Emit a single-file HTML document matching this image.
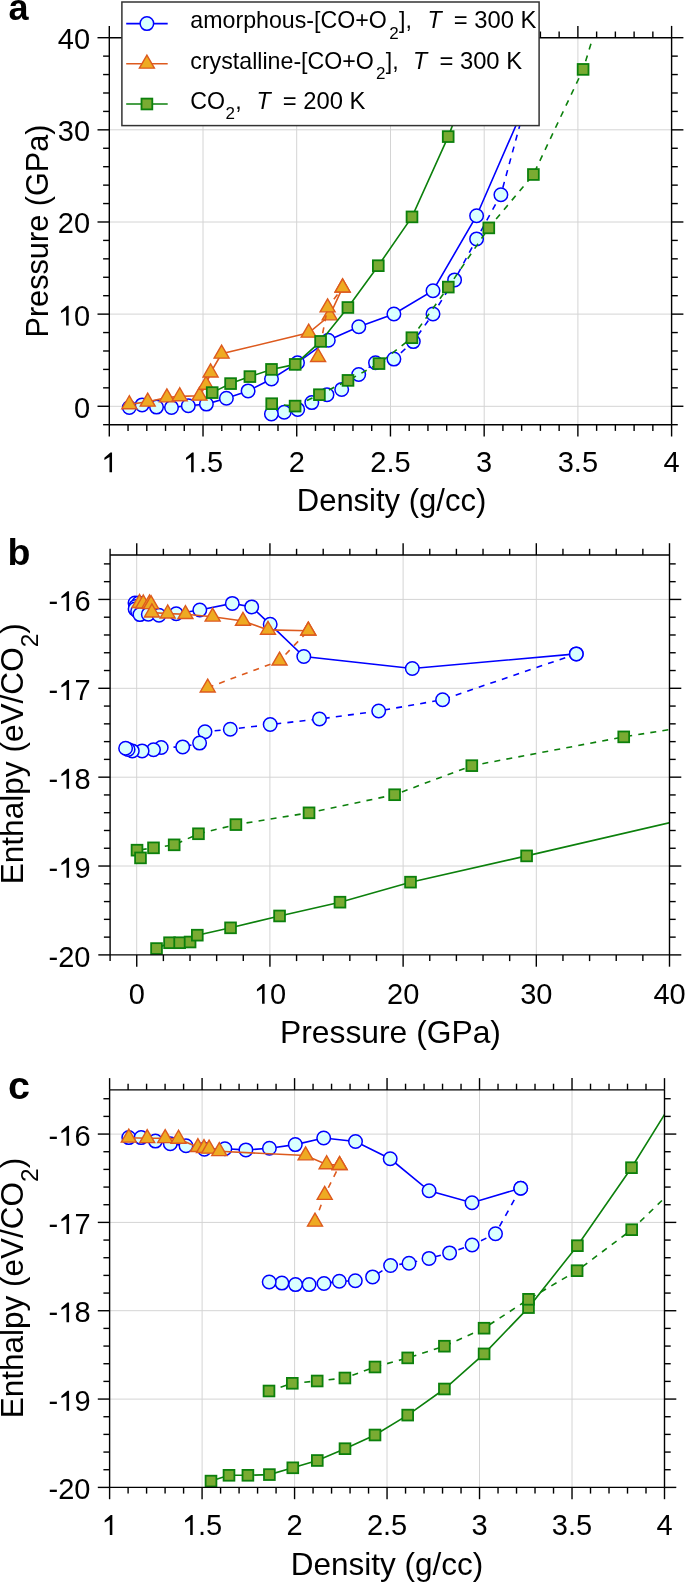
<!DOCTYPE html>
<html><head><meta charset="utf-8"><style>
html,body{margin:0;padding:0;background:#fff;width:685px;height:1582px;overflow:hidden}
svg{display:block;font-family:"Liberation Sans", sans-serif;will-change:transform}
</style></head><body>
<svg width="685" height="1582" viewBox="0 0 685 1582">
<defs>
<clipPath id="ca"><rect x="109.3" y="37.7" width="562.3" height="387.0"/></clipPath>
<clipPath id="cb"><rect x="110.1" y="555.0" width="559.4" height="399.9"/></clipPath>
<clipPath id="cc"><rect x="109.6" y="1089.9" width="554.9" height="397.5"/></clipPath>
</defs>
<line x1="203.0" y1="37.7" x2="203.0" y2="424.7" stroke="#d4d4d4" stroke-width="1"/>
<line x1="296.7" y1="37.7" x2="296.7" y2="424.7" stroke="#d4d4d4" stroke-width="1"/>
<line x1="390.5" y1="37.7" x2="390.5" y2="424.7" stroke="#d4d4d4" stroke-width="1"/>
<line x1="484.2" y1="37.7" x2="484.2" y2="424.7" stroke="#d4d4d4" stroke-width="1"/>
<line x1="577.9" y1="37.7" x2="577.9" y2="424.7" stroke="#d4d4d4" stroke-width="1"/>
<line x1="109.3" y1="406.3" x2="671.6" y2="406.3" stroke="#d4d4d4" stroke-width="1"/>
<line x1="109.3" y1="314.1" x2="671.6" y2="314.1" stroke="#d4d4d4" stroke-width="1"/>
<line x1="109.3" y1="222.0" x2="671.6" y2="222.0" stroke="#d4d4d4" stroke-width="1"/>
<line x1="109.3" y1="129.8" x2="671.6" y2="129.8" stroke="#d4d4d4" stroke-width="1"/>
<g clip-path="url(#ca)"><polyline points="129.3,407.5 142.1,404.9 156.5,407.1 171.5,407.4 188.3,405.7 206.4,404.1 226.4,398.3 248.1,390.9 271.5,379.0 297.5,362.7 328.3,340.2 358.8,326.8 393.9,314.0 433.0,290.7 476.6,215.7 526.1,102.2" fill="none" stroke="#0000ff" stroke-width="1.6"/><circle cx="129.3" cy="407.5" r="6.75" fill="#d9ffff" stroke="#0000ff" stroke-width="1.5"/><circle cx="142.1" cy="404.9" r="6.75" fill="#d9ffff" stroke="#0000ff" stroke-width="1.5"/><circle cx="156.5" cy="407.1" r="6.75" fill="#d9ffff" stroke="#0000ff" stroke-width="1.5"/><circle cx="171.5" cy="407.4" r="6.75" fill="#d9ffff" stroke="#0000ff" stroke-width="1.5"/><circle cx="188.3" cy="405.7" r="6.75" fill="#d9ffff" stroke="#0000ff" stroke-width="1.5"/><circle cx="206.4" cy="404.1" r="6.75" fill="#d9ffff" stroke="#0000ff" stroke-width="1.5"/><circle cx="226.4" cy="398.3" r="6.75" fill="#d9ffff" stroke="#0000ff" stroke-width="1.5"/><circle cx="248.1" cy="390.9" r="6.75" fill="#d9ffff" stroke="#0000ff" stroke-width="1.5"/><circle cx="271.5" cy="379.0" r="6.75" fill="#d9ffff" stroke="#0000ff" stroke-width="1.5"/><circle cx="297.5" cy="362.7" r="6.75" fill="#d9ffff" stroke="#0000ff" stroke-width="1.5"/><circle cx="328.3" cy="340.2" r="6.75" fill="#d9ffff" stroke="#0000ff" stroke-width="1.5"/><circle cx="358.8" cy="326.8" r="6.75" fill="#d9ffff" stroke="#0000ff" stroke-width="1.5"/><circle cx="393.9" cy="314.0" r="6.75" fill="#d9ffff" stroke="#0000ff" stroke-width="1.5"/><circle cx="433.0" cy="290.7" r="6.75" fill="#d9ffff" stroke="#0000ff" stroke-width="1.5"/><circle cx="476.6" cy="215.7" r="6.75" fill="#d9ffff" stroke="#0000ff" stroke-width="1.5"/><circle cx="526.1" cy="102.2" r="6.75" fill="#d9ffff" stroke="#0000ff" stroke-width="1.5"/></g>
<g clip-path="url(#ca)"><polyline points="271.4,414.0 284.2,412.3 297.7,409.4 311.8,402.6 327.0,394.7 341.7,389.4 358.7,374.5 375.5,362.8 393.9,359.1 413.3,341.6 433.0,314.0 454.6,279.9 476.6,238.9 500.9,194.7 526.1,102.2" fill="none" stroke="#0000ff" stroke-width="1.6" stroke-dasharray="6,6.2"/><circle cx="526.1" cy="102.2" r="6.75" fill="#d9ffff" stroke="#0000ff" stroke-width="1.5"/><circle cx="500.9" cy="194.7" r="6.75" fill="#d9ffff" stroke="#0000ff" stroke-width="1.5"/><circle cx="476.6" cy="238.9" r="6.75" fill="#d9ffff" stroke="#0000ff" stroke-width="1.5"/><circle cx="454.6" cy="279.9" r="6.75" fill="#d9ffff" stroke="#0000ff" stroke-width="1.5"/><circle cx="433.0" cy="314.0" r="6.75" fill="#d9ffff" stroke="#0000ff" stroke-width="1.5"/><circle cx="413.3" cy="341.6" r="6.75" fill="#d9ffff" stroke="#0000ff" stroke-width="1.5"/><circle cx="393.9" cy="359.1" r="6.75" fill="#d9ffff" stroke="#0000ff" stroke-width="1.5"/><circle cx="375.5" cy="362.8" r="6.75" fill="#d9ffff" stroke="#0000ff" stroke-width="1.5"/><circle cx="358.7" cy="374.5" r="6.75" fill="#d9ffff" stroke="#0000ff" stroke-width="1.5"/><circle cx="341.7" cy="389.4" r="6.75" fill="#d9ffff" stroke="#0000ff" stroke-width="1.5"/><circle cx="327.0" cy="394.7" r="6.75" fill="#d9ffff" stroke="#0000ff" stroke-width="1.5"/><circle cx="311.8" cy="402.6" r="6.75" fill="#d9ffff" stroke="#0000ff" stroke-width="1.5"/><circle cx="297.7" cy="409.4" r="6.75" fill="#d9ffff" stroke="#0000ff" stroke-width="1.5"/><circle cx="284.2" cy="412.3" r="6.75" fill="#d9ffff" stroke="#0000ff" stroke-width="1.5"/><circle cx="271.4" cy="414.0" r="6.75" fill="#d9ffff" stroke="#0000ff" stroke-width="1.5"/></g>
<g clip-path="url(#ca)"><polyline points="129.3,404.4 147.7,401.8 166.9,397.5 179.7,396.4 199.5,395.8 206.0,384.9 210.6,372.6 221.6,353.8 308.7,332.8 329.7,315.5 342.6,287.6" fill="none" stroke="#dd5a1e" stroke-width="1.6"/><polygon points="129.30,395.74 121.80,408.73 136.80,408.73" fill="#eeaa22" stroke="#dd5a1e" stroke-width="1.4" stroke-linejoin="miter"/><polygon points="147.70,393.14 140.20,406.13 155.20,406.13" fill="#eeaa22" stroke="#dd5a1e" stroke-width="1.4" stroke-linejoin="miter"/><polygon points="166.90,388.84 159.40,401.83 174.40,401.83" fill="#eeaa22" stroke="#dd5a1e" stroke-width="1.4" stroke-linejoin="miter"/><polygon points="179.70,387.74 172.20,400.73 187.20,400.73" fill="#eeaa22" stroke="#dd5a1e" stroke-width="1.4" stroke-linejoin="miter"/><polygon points="199.50,387.14 192.00,400.13 207.00,400.13" fill="#eeaa22" stroke="#dd5a1e" stroke-width="1.4" stroke-linejoin="miter"/><polygon points="206.00,376.24 198.50,389.23 213.50,389.23" fill="#eeaa22" stroke="#dd5a1e" stroke-width="1.4" stroke-linejoin="miter"/><polygon points="210.60,363.94 203.10,376.93 218.10,376.93" fill="#eeaa22" stroke="#dd5a1e" stroke-width="1.4" stroke-linejoin="miter"/><polygon points="221.60,345.14 214.10,358.13 229.10,358.13" fill="#eeaa22" stroke="#dd5a1e" stroke-width="1.4" stroke-linejoin="miter"/><polygon points="308.70,324.14 301.20,337.13 316.20,337.13" fill="#eeaa22" stroke="#dd5a1e" stroke-width="1.4" stroke-linejoin="miter"/><polygon points="329.70,306.84 322.20,319.83 337.20,319.83" fill="#eeaa22" stroke="#dd5a1e" stroke-width="1.4" stroke-linejoin="miter"/><polygon points="342.60,278.94 335.10,291.93 350.10,291.93" fill="#eeaa22" stroke="#dd5a1e" stroke-width="1.4" stroke-linejoin="miter"/></g>
<g clip-path="url(#ca)"><polyline points="318.1,357.2 327.6,307.5 342.6,287.6" fill="none" stroke="#dd5a1e" stroke-width="1.6" stroke-dasharray="6,6.2"/><polygon points="342.60,278.94 335.10,291.93 350.10,291.93" fill="#eeaa22" stroke="#dd5a1e" stroke-width="1.4" stroke-linejoin="miter"/><polygon points="327.60,298.84 320.10,311.83 335.10,311.83" fill="#eeaa22" stroke="#dd5a1e" stroke-width="1.4" stroke-linejoin="miter"/><polygon points="318.10,348.54 310.60,361.53 325.60,361.53" fill="#eeaa22" stroke="#dd5a1e" stroke-width="1.4" stroke-linejoin="miter"/></g>
<g clip-path="url(#ca)"><polyline points="212.2,392.6 230.6,383.6 249.9,376.6 271.5,369.4 295.2,364.4 320.6,341.4 347.9,307.5 378.3,265.7 412.0,216.9 448.2,136.6 488.7,31.2" fill="none" stroke="#0c800c" stroke-width="1.6"/><rect x="206.80" y="387.20" width="10.8" height="10.8" fill="#79ab32" stroke="#0c800c" stroke-width="1.8"/><rect x="225.20" y="378.20" width="10.8" height="10.8" fill="#79ab32" stroke="#0c800c" stroke-width="1.8"/><rect x="244.50" y="371.20" width="10.8" height="10.8" fill="#79ab32" stroke="#0c800c" stroke-width="1.8"/><rect x="266.10" y="364.00" width="10.8" height="10.8" fill="#79ab32" stroke="#0c800c" stroke-width="1.8"/><rect x="289.80" y="359.00" width="10.8" height="10.8" fill="#79ab32" stroke="#0c800c" stroke-width="1.8"/><rect x="315.20" y="336.00" width="10.8" height="10.8" fill="#79ab32" stroke="#0c800c" stroke-width="1.8"/><rect x="342.50" y="302.10" width="10.8" height="10.8" fill="#79ab32" stroke="#0c800c" stroke-width="1.8"/><rect x="372.90" y="260.30" width="10.8" height="10.8" fill="#79ab32" stroke="#0c800c" stroke-width="1.8"/><rect x="406.60" y="211.50" width="10.8" height="10.8" fill="#79ab32" stroke="#0c800c" stroke-width="1.8"/><rect x="442.80" y="131.20" width="10.8" height="10.8" fill="#79ab32" stroke="#0c800c" stroke-width="1.8"/></g>
<g clip-path="url(#ca)"><polyline points="271.7,403.7 295.1,406.1 319.4,394.7 348.0,380.4 379.0,363.6 411.9,337.7 448.3,287.1 488.8,227.9 533.4,174.5 583.1,69.4 637.9,-109.7" fill="none" stroke="#0c800c" stroke-width="1.6" stroke-dasharray="6,6.2"/><rect x="577.70" y="64.00" width="10.8" height="10.8" fill="#79ab32" stroke="#0c800c" stroke-width="1.8"/><rect x="528.00" y="169.10" width="10.8" height="10.8" fill="#79ab32" stroke="#0c800c" stroke-width="1.8"/><rect x="483.40" y="222.50" width="10.8" height="10.8" fill="#79ab32" stroke="#0c800c" stroke-width="1.8"/><rect x="442.90" y="281.70" width="10.8" height="10.8" fill="#79ab32" stroke="#0c800c" stroke-width="1.8"/><rect x="406.50" y="332.30" width="10.8" height="10.8" fill="#79ab32" stroke="#0c800c" stroke-width="1.8"/><rect x="373.60" y="358.20" width="10.8" height="10.8" fill="#79ab32" stroke="#0c800c" stroke-width="1.8"/><rect x="342.60" y="375.00" width="10.8" height="10.8" fill="#79ab32" stroke="#0c800c" stroke-width="1.8"/><rect x="314.00" y="389.30" width="10.8" height="10.8" fill="#79ab32" stroke="#0c800c" stroke-width="1.8"/><rect x="289.70" y="400.70" width="10.8" height="10.8" fill="#79ab32" stroke="#0c800c" stroke-width="1.8"/><rect x="266.30" y="398.30" width="10.8" height="10.8" fill="#79ab32" stroke="#0c800c" stroke-width="1.8"/></g>
<line x1="109.30" y1="424.70" x2="671.60" y2="424.70" stroke="#000" stroke-width="1.4"/>
<line x1="109.30" y1="37.70" x2="671.60" y2="37.70" stroke="#000" stroke-width="1.4"/>
<line x1="109.30" y1="424.70" x2="109.30" y2="37.70" stroke="#000" stroke-width="1.4"/>
<line x1="671.60" y1="424.70" x2="671.60" y2="37.70" stroke="#000" stroke-width="1.4"/>
<line x1="109.30" y1="424.70" x2="109.30" y2="436.50" stroke="#000" stroke-width="1.4"/>
<line x1="109.30" y1="37.70" x2="109.30" y2="25.90" stroke="#000" stroke-width="1.4"/>
<line x1="203.02" y1="424.70" x2="203.02" y2="436.50" stroke="#000" stroke-width="1.4"/>
<line x1="203.02" y1="37.70" x2="203.02" y2="25.90" stroke="#000" stroke-width="1.4"/>
<line x1="296.73" y1="424.70" x2="296.73" y2="436.50" stroke="#000" stroke-width="1.4"/>
<line x1="296.73" y1="37.70" x2="296.73" y2="25.90" stroke="#000" stroke-width="1.4"/>
<line x1="390.45" y1="424.70" x2="390.45" y2="436.50" stroke="#000" stroke-width="1.4"/>
<line x1="390.45" y1="37.70" x2="390.45" y2="25.90" stroke="#000" stroke-width="1.4"/>
<line x1="484.17" y1="424.70" x2="484.17" y2="436.50" stroke="#000" stroke-width="1.4"/>
<line x1="484.17" y1="37.70" x2="484.17" y2="25.90" stroke="#000" stroke-width="1.4"/>
<line x1="577.88" y1="424.70" x2="577.88" y2="436.50" stroke="#000" stroke-width="1.4"/>
<line x1="577.88" y1="37.70" x2="577.88" y2="25.90" stroke="#000" stroke-width="1.4"/>
<line x1="671.60" y1="424.70" x2="671.60" y2="436.50" stroke="#000" stroke-width="1.4"/>
<line x1="671.60" y1="37.70" x2="671.60" y2="25.90" stroke="#000" stroke-width="1.4"/>
<line x1="128.04" y1="424.70" x2="128.04" y2="430.90" stroke="#000" stroke-width="1.4"/>
<line x1="128.04" y1="37.70" x2="128.04" y2="31.50" stroke="#000" stroke-width="1.4"/>
<line x1="146.79" y1="424.70" x2="146.79" y2="430.90" stroke="#000" stroke-width="1.4"/>
<line x1="146.79" y1="37.70" x2="146.79" y2="31.50" stroke="#000" stroke-width="1.4"/>
<line x1="165.53" y1="424.70" x2="165.53" y2="430.90" stroke="#000" stroke-width="1.4"/>
<line x1="165.53" y1="37.70" x2="165.53" y2="31.50" stroke="#000" stroke-width="1.4"/>
<line x1="184.27" y1="424.70" x2="184.27" y2="430.90" stroke="#000" stroke-width="1.4"/>
<line x1="184.27" y1="37.70" x2="184.27" y2="31.50" stroke="#000" stroke-width="1.4"/>
<line x1="221.76" y1="424.70" x2="221.76" y2="430.90" stroke="#000" stroke-width="1.4"/>
<line x1="221.76" y1="37.70" x2="221.76" y2="31.50" stroke="#000" stroke-width="1.4"/>
<line x1="240.50" y1="424.70" x2="240.50" y2="430.90" stroke="#000" stroke-width="1.4"/>
<line x1="240.50" y1="37.70" x2="240.50" y2="31.50" stroke="#000" stroke-width="1.4"/>
<line x1="259.25" y1="424.70" x2="259.25" y2="430.90" stroke="#000" stroke-width="1.4"/>
<line x1="259.25" y1="37.70" x2="259.25" y2="31.50" stroke="#000" stroke-width="1.4"/>
<line x1="277.99" y1="424.70" x2="277.99" y2="430.90" stroke="#000" stroke-width="1.4"/>
<line x1="277.99" y1="37.70" x2="277.99" y2="31.50" stroke="#000" stroke-width="1.4"/>
<line x1="315.48" y1="424.70" x2="315.48" y2="430.90" stroke="#000" stroke-width="1.4"/>
<line x1="315.48" y1="37.70" x2="315.48" y2="31.50" stroke="#000" stroke-width="1.4"/>
<line x1="334.22" y1="424.70" x2="334.22" y2="430.90" stroke="#000" stroke-width="1.4"/>
<line x1="334.22" y1="37.70" x2="334.22" y2="31.50" stroke="#000" stroke-width="1.4"/>
<line x1="352.96" y1="424.70" x2="352.96" y2="430.90" stroke="#000" stroke-width="1.4"/>
<line x1="352.96" y1="37.70" x2="352.96" y2="31.50" stroke="#000" stroke-width="1.4"/>
<line x1="371.71" y1="424.70" x2="371.71" y2="430.90" stroke="#000" stroke-width="1.4"/>
<line x1="371.71" y1="37.70" x2="371.71" y2="31.50" stroke="#000" stroke-width="1.4"/>
<line x1="409.19" y1="424.70" x2="409.19" y2="430.90" stroke="#000" stroke-width="1.4"/>
<line x1="409.19" y1="37.70" x2="409.19" y2="31.50" stroke="#000" stroke-width="1.4"/>
<line x1="427.94" y1="424.70" x2="427.94" y2="430.90" stroke="#000" stroke-width="1.4"/>
<line x1="427.94" y1="37.70" x2="427.94" y2="31.50" stroke="#000" stroke-width="1.4"/>
<line x1="446.68" y1="424.70" x2="446.68" y2="430.90" stroke="#000" stroke-width="1.4"/>
<line x1="446.68" y1="37.70" x2="446.68" y2="31.50" stroke="#000" stroke-width="1.4"/>
<line x1="465.42" y1="424.70" x2="465.42" y2="430.90" stroke="#000" stroke-width="1.4"/>
<line x1="465.42" y1="37.70" x2="465.42" y2="31.50" stroke="#000" stroke-width="1.4"/>
<line x1="502.91" y1="424.70" x2="502.91" y2="430.90" stroke="#000" stroke-width="1.4"/>
<line x1="502.91" y1="37.70" x2="502.91" y2="31.50" stroke="#000" stroke-width="1.4"/>
<line x1="521.65" y1="424.70" x2="521.65" y2="430.90" stroke="#000" stroke-width="1.4"/>
<line x1="521.65" y1="37.70" x2="521.65" y2="31.50" stroke="#000" stroke-width="1.4"/>
<line x1="540.40" y1="424.70" x2="540.40" y2="430.90" stroke="#000" stroke-width="1.4"/>
<line x1="540.40" y1="37.70" x2="540.40" y2="31.50" stroke="#000" stroke-width="1.4"/>
<line x1="559.14" y1="424.70" x2="559.14" y2="430.90" stroke="#000" stroke-width="1.4"/>
<line x1="559.14" y1="37.70" x2="559.14" y2="31.50" stroke="#000" stroke-width="1.4"/>
<line x1="596.63" y1="424.70" x2="596.63" y2="430.90" stroke="#000" stroke-width="1.4"/>
<line x1="596.63" y1="37.70" x2="596.63" y2="31.50" stroke="#000" stroke-width="1.4"/>
<line x1="615.37" y1="424.70" x2="615.37" y2="430.90" stroke="#000" stroke-width="1.4"/>
<line x1="615.37" y1="37.70" x2="615.37" y2="31.50" stroke="#000" stroke-width="1.4"/>
<line x1="634.11" y1="424.70" x2="634.11" y2="430.90" stroke="#000" stroke-width="1.4"/>
<line x1="634.11" y1="37.70" x2="634.11" y2="31.50" stroke="#000" stroke-width="1.4"/>
<line x1="652.86" y1="424.70" x2="652.86" y2="430.90" stroke="#000" stroke-width="1.4"/>
<line x1="652.86" y1="37.70" x2="652.86" y2="31.50" stroke="#000" stroke-width="1.4"/>
<line x1="109.30" y1="406.27" x2="97.50" y2="406.27" stroke="#000" stroke-width="1.4"/>
<line x1="671.60" y1="406.27" x2="683.40" y2="406.27" stroke="#000" stroke-width="1.4"/>
<line x1="109.30" y1="314.13" x2="97.50" y2="314.13" stroke="#000" stroke-width="1.4"/>
<line x1="671.60" y1="314.13" x2="683.40" y2="314.13" stroke="#000" stroke-width="1.4"/>
<line x1="109.30" y1="221.99" x2="97.50" y2="221.99" stroke="#000" stroke-width="1.4"/>
<line x1="671.60" y1="221.99" x2="683.40" y2="221.99" stroke="#000" stroke-width="1.4"/>
<line x1="109.30" y1="129.84" x2="97.50" y2="129.84" stroke="#000" stroke-width="1.4"/>
<line x1="671.60" y1="129.84" x2="683.40" y2="129.84" stroke="#000" stroke-width="1.4"/>
<line x1="109.30" y1="37.70" x2="97.50" y2="37.70" stroke="#000" stroke-width="1.4"/>
<line x1="671.60" y1="37.70" x2="683.40" y2="37.70" stroke="#000" stroke-width="1.4"/>
<line x1="109.30" y1="424.70" x2="103.10" y2="424.70" stroke="#000" stroke-width="1.4"/>
<line x1="671.60" y1="424.70" x2="677.80" y2="424.70" stroke="#000" stroke-width="1.4"/>
<line x1="109.30" y1="387.84" x2="103.10" y2="387.84" stroke="#000" stroke-width="1.4"/>
<line x1="671.60" y1="387.84" x2="677.80" y2="387.84" stroke="#000" stroke-width="1.4"/>
<line x1="109.30" y1="369.41" x2="103.10" y2="369.41" stroke="#000" stroke-width="1.4"/>
<line x1="671.60" y1="369.41" x2="677.80" y2="369.41" stroke="#000" stroke-width="1.4"/>
<line x1="109.30" y1="350.99" x2="103.10" y2="350.99" stroke="#000" stroke-width="1.4"/>
<line x1="671.60" y1="350.99" x2="677.80" y2="350.99" stroke="#000" stroke-width="1.4"/>
<line x1="109.30" y1="332.56" x2="103.10" y2="332.56" stroke="#000" stroke-width="1.4"/>
<line x1="671.60" y1="332.56" x2="677.80" y2="332.56" stroke="#000" stroke-width="1.4"/>
<line x1="109.30" y1="295.70" x2="103.10" y2="295.70" stroke="#000" stroke-width="1.4"/>
<line x1="671.60" y1="295.70" x2="677.80" y2="295.70" stroke="#000" stroke-width="1.4"/>
<line x1="109.30" y1="277.27" x2="103.10" y2="277.27" stroke="#000" stroke-width="1.4"/>
<line x1="671.60" y1="277.27" x2="677.80" y2="277.27" stroke="#000" stroke-width="1.4"/>
<line x1="109.30" y1="258.84" x2="103.10" y2="258.84" stroke="#000" stroke-width="1.4"/>
<line x1="671.60" y1="258.84" x2="677.80" y2="258.84" stroke="#000" stroke-width="1.4"/>
<line x1="109.30" y1="240.41" x2="103.10" y2="240.41" stroke="#000" stroke-width="1.4"/>
<line x1="671.60" y1="240.41" x2="677.80" y2="240.41" stroke="#000" stroke-width="1.4"/>
<line x1="109.30" y1="203.56" x2="103.10" y2="203.56" stroke="#000" stroke-width="1.4"/>
<line x1="671.60" y1="203.56" x2="677.80" y2="203.56" stroke="#000" stroke-width="1.4"/>
<line x1="109.30" y1="185.13" x2="103.10" y2="185.13" stroke="#000" stroke-width="1.4"/>
<line x1="671.60" y1="185.13" x2="677.80" y2="185.13" stroke="#000" stroke-width="1.4"/>
<line x1="109.30" y1="166.70" x2="103.10" y2="166.70" stroke="#000" stroke-width="1.4"/>
<line x1="671.60" y1="166.70" x2="677.80" y2="166.70" stroke="#000" stroke-width="1.4"/>
<line x1="109.30" y1="148.27" x2="103.10" y2="148.27" stroke="#000" stroke-width="1.4"/>
<line x1="671.60" y1="148.27" x2="677.80" y2="148.27" stroke="#000" stroke-width="1.4"/>
<line x1="109.30" y1="111.41" x2="103.10" y2="111.41" stroke="#000" stroke-width="1.4"/>
<line x1="671.60" y1="111.41" x2="677.80" y2="111.41" stroke="#000" stroke-width="1.4"/>
<line x1="109.30" y1="92.99" x2="103.10" y2="92.99" stroke="#000" stroke-width="1.4"/>
<line x1="671.60" y1="92.99" x2="677.80" y2="92.99" stroke="#000" stroke-width="1.4"/>
<line x1="109.30" y1="74.56" x2="103.10" y2="74.56" stroke="#000" stroke-width="1.4"/>
<line x1="671.60" y1="74.56" x2="677.80" y2="74.56" stroke="#000" stroke-width="1.4"/>
<line x1="109.30" y1="56.13" x2="103.10" y2="56.13" stroke="#000" stroke-width="1.4"/>
<line x1="671.60" y1="56.13" x2="677.80" y2="56.13" stroke="#000" stroke-width="1.4"/>
<path d="M112.04,472.30 L109.49,472.30 L109.49,457.07 L104.38,459.89 L104.38,457.66 L110.46,452.41 L112.04,452.41 Z" fill="#000"/>
<path d="M193.67,472.30 L191.12,472.30 L191.12,457.07 L186.01,459.89 L186.01,457.66 L192.08,452.41 L193.67,452.41 Z" fill="#000"/><text x="198.99" y="472.30" font-size="29">.5</text>
<text x="288.67" y="472.30" font-size="29">2</text>
<text x="370.30" y="472.30" font-size="29">2.5</text>
<text x="476.10" y="472.30" font-size="29">3</text>
<text x="557.73" y="472.30" font-size="29">3.5</text>
<text x="663.54" y="472.30" font-size="29">4</text>
<text x="73.98" y="417.67" font-size="29">0</text>
<path d="M68.66,325.53 L66.11,325.53 L66.11,310.30 L61.00,313.12 L61.00,310.88 L67.07,305.63 L68.66,305.63 Z" fill="#000"/><text x="73.98" y="325.53" font-size="29">0</text>
<text x="57.85" y="233.39" font-size="29">20</text>
<text x="57.85" y="141.24" font-size="29">30</text>
<text x="57.85" y="49.10" font-size="29">40</text>
<text x="391.5" y="511.3" font-size="31" text-anchor="middle" font-weight="normal">Density (g/cc)</text>
<text x="48.3" y="231.0" font-size="30.7" text-anchor="middle" font-weight="normal" transform="rotate(-90 48.3 231.0)">Pressure (GPa)</text>
<text x="8.4" y="20.4" font-size="36" text-anchor="start" font-weight="bold">a</text>
<rect x="121.9" y="2.0" width="417.2" height="123.6" fill="#fff" stroke="#333" stroke-width="1.5"/>
<line x1="126.2" y1="23.6" x2="167.7" y2="23.6" stroke="#0000ff" stroke-width="1.6"/>
<circle cx="146.9" cy="23.6" r="6.75" fill="#d9ffff" stroke="#0000ff" stroke-width="1.5"/>
<line x1="126.2" y1="63.8" x2="167.7" y2="63.8" stroke="#dd5a1e" stroke-width="1.6"/>
<polygon points="146.90,55.14 139.40,68.13 154.40,68.13" fill="#eeaa22" stroke="#dd5a1e" stroke-width="1.4" stroke-linejoin="miter"/>
<line x1="126.2" y1="104.0" x2="167.7" y2="104.0" stroke="#0c800c" stroke-width="1.6"/>
<rect x="141.50" y="98.60" width="10.8" height="10.8" fill="#79ab32" stroke="#0c800c" stroke-width="1.8"/>
<text x="190.3" y="28.4" font-size="23.2">amorphous-[CO+O</text>
<text x="389.3" y="38.9" font-size="17.0">2</text>
<text x="399.1" y="28.4" font-size="23.2">],</text>
<text x="427.4" y="28.4" font-size="23.2" font-style="italic">T</text>
<text x="453.7" y="28.4" font-size="23.8">= 300 K</text>
<text x="190.3" y="68.5" font-size="23.2">crystalline-[CO+O</text>
<text x="376.0" y="79.0" font-size="17.0">2</text>
<text x="385.8" y="68.5" font-size="23.2">],</text>
<text x="413.1" y="68.5" font-size="23.2" font-style="italic">T</text>
<text x="439.4" y="68.5" font-size="23.8">= 300 K</text>
<text x="190.3" y="108.6" font-size="23.2">CO</text>
<text x="225.4" y="119.1" font-size="17.0">2</text>
<text x="235.2" y="108.6" font-size="23.2">,</text>
<text x="256.5" y="108.6" font-size="23.2" font-style="italic">T</text>
<text x="282.8" y="108.6" font-size="23.8">= 200 K</text>
<line x1="136.7" y1="555.0" x2="136.7" y2="954.9" stroke="#d4d4d4" stroke-width="1"/>
<line x1="269.9" y1="555.0" x2="269.9" y2="954.9" stroke="#d4d4d4" stroke-width="1"/>
<line x1="403.1" y1="555.0" x2="403.1" y2="954.9" stroke="#d4d4d4" stroke-width="1"/>
<line x1="536.3" y1="555.0" x2="536.3" y2="954.9" stroke="#d4d4d4" stroke-width="1"/>
<line x1="110.1" y1="866.0" x2="669.5" y2="866.0" stroke="#d4d4d4" stroke-width="1"/>
<line x1="110.1" y1="777.2" x2="669.5" y2="777.2" stroke="#d4d4d4" stroke-width="1"/>
<line x1="110.1" y1="688.3" x2="669.5" y2="688.3" stroke="#d4d4d4" stroke-width="1"/>
<line x1="110.1" y1="599.4" x2="669.5" y2="599.4" stroke="#d4d4d4" stroke-width="1"/>
<g clip-path="url(#cb)"><polyline points="135.0,603.0 138.8,603.0 135.6,606.5 135.1,609.1 137.6,611.2 139.9,614.6 148.3,614.2 159.0,615.3 176.2,613.7 199.8,610.0 232.3,603.4 251.7,606.9 270.2,624.3 303.8,656.5 412.3,668.5 576.3,653.9" fill="none" stroke="#0000ff" stroke-width="1.6"/><circle cx="135.0" cy="603.0" r="6.75" fill="#d9ffff" stroke="#0000ff" stroke-width="1.5"/><circle cx="138.8" cy="603.0" r="6.75" fill="#d9ffff" stroke="#0000ff" stroke-width="1.5"/><circle cx="135.6" cy="606.5" r="6.75" fill="#d9ffff" stroke="#0000ff" stroke-width="1.5"/><circle cx="135.1" cy="609.1" r="6.75" fill="#d9ffff" stroke="#0000ff" stroke-width="1.5"/><circle cx="137.6" cy="611.2" r="6.75" fill="#d9ffff" stroke="#0000ff" stroke-width="1.5"/><circle cx="139.9" cy="614.6" r="6.75" fill="#d9ffff" stroke="#0000ff" stroke-width="1.5"/><circle cx="148.3" cy="614.2" r="6.75" fill="#d9ffff" stroke="#0000ff" stroke-width="1.5"/><circle cx="159.0" cy="615.3" r="6.75" fill="#d9ffff" stroke="#0000ff" stroke-width="1.5"/><circle cx="176.2" cy="613.7" r="6.75" fill="#d9ffff" stroke="#0000ff" stroke-width="1.5"/><circle cx="199.8" cy="610.0" r="6.75" fill="#d9ffff" stroke="#0000ff" stroke-width="1.5"/><circle cx="232.3" cy="603.4" r="6.75" fill="#d9ffff" stroke="#0000ff" stroke-width="1.5"/><circle cx="251.7" cy="606.9" r="6.75" fill="#d9ffff" stroke="#0000ff" stroke-width="1.5"/><circle cx="270.2" cy="624.3" r="6.75" fill="#d9ffff" stroke="#0000ff" stroke-width="1.5"/><circle cx="303.8" cy="656.5" r="6.75" fill="#d9ffff" stroke="#0000ff" stroke-width="1.5"/><circle cx="412.3" cy="668.5" r="6.75" fill="#d9ffff" stroke="#0000ff" stroke-width="1.5"/><circle cx="576.3" cy="653.9" r="6.75" fill="#d9ffff" stroke="#0000ff" stroke-width="1.5"/></g>
<g clip-path="url(#cb)"><polyline points="125.6,748.3 128.1,749.4 132.3,750.9 142.1,750.9 153.5,749.8 161.2,747.5 182.7,746.9 199.6,743.1 205.0,731.7 230.3,729.3 270.2,724.5 319.5,719.0 378.7,711.0 442.6,699.7 576.3,653.9" fill="none" stroke="#0000ff" stroke-width="1.6" stroke-dasharray="6,6.2"/><circle cx="576.3" cy="653.9" r="6.75" fill="#d9ffff" stroke="#0000ff" stroke-width="1.5"/><circle cx="442.6" cy="699.7" r="6.75" fill="#d9ffff" stroke="#0000ff" stroke-width="1.5"/><circle cx="378.7" cy="711.0" r="6.75" fill="#d9ffff" stroke="#0000ff" stroke-width="1.5"/><circle cx="319.5" cy="719.0" r="6.75" fill="#d9ffff" stroke="#0000ff" stroke-width="1.5"/><circle cx="270.2" cy="724.5" r="6.75" fill="#d9ffff" stroke="#0000ff" stroke-width="1.5"/><circle cx="230.3" cy="729.3" r="6.75" fill="#d9ffff" stroke="#0000ff" stroke-width="1.5"/><circle cx="205.0" cy="731.7" r="6.75" fill="#d9ffff" stroke="#0000ff" stroke-width="1.5"/><circle cx="199.6" cy="743.1" r="6.75" fill="#d9ffff" stroke="#0000ff" stroke-width="1.5"/><circle cx="182.7" cy="746.9" r="6.75" fill="#d9ffff" stroke="#0000ff" stroke-width="1.5"/><circle cx="161.2" cy="747.5" r="6.75" fill="#d9ffff" stroke="#0000ff" stroke-width="1.5"/><circle cx="153.5" cy="749.8" r="6.75" fill="#d9ffff" stroke="#0000ff" stroke-width="1.5"/><circle cx="142.1" cy="750.9" r="6.75" fill="#d9ffff" stroke="#0000ff" stroke-width="1.5"/><circle cx="132.3" cy="750.9" r="6.75" fill="#d9ffff" stroke="#0000ff" stroke-width="1.5"/><circle cx="128.1" cy="749.4" r="6.75" fill="#d9ffff" stroke="#0000ff" stroke-width="1.5"/><circle cx="125.6" cy="748.3" r="6.75" fill="#d9ffff" stroke="#0000ff" stroke-width="1.5"/></g>
<g clip-path="url(#cb)"><polyline points="139.5,603.2 143.2,603.7 149.5,603.7 151.0,604.3 151.9,612.6 167.7,613.6 185.5,614.2 212.6,616.8 243.0,621.0 268.0,629.9 308.3,630.7" fill="none" stroke="#dd5a1e" stroke-width="1.6"/><polygon points="139.48,594.52 131.98,607.51 146.98,607.51" fill="#eeaa22" stroke="#dd5a1e" stroke-width="1.4" stroke-linejoin="miter"/><polygon points="143.24,595.02 135.74,608.01 150.74,608.01" fill="#eeaa22" stroke="#dd5a1e" stroke-width="1.4" stroke-linejoin="miter"/><polygon points="149.46,595.02 141.96,608.01 156.96,608.01" fill="#eeaa22" stroke="#dd5a1e" stroke-width="1.4" stroke-linejoin="miter"/><polygon points="151.05,595.62 143.55,608.61 158.55,608.61" fill="#eeaa22" stroke="#dd5a1e" stroke-width="1.4" stroke-linejoin="miter"/><polygon points="151.92,603.97 144.42,616.96 159.42,616.96" fill="#eeaa22" stroke="#dd5a1e" stroke-width="1.4" stroke-linejoin="miter"/><polygon points="167.67,604.98 160.17,617.97 175.17,617.97" fill="#eeaa22" stroke="#dd5a1e" stroke-width="1.4" stroke-linejoin="miter"/><polygon points="185.45,605.58 177.95,618.57 192.95,618.57" fill="#eeaa22" stroke="#dd5a1e" stroke-width="1.4" stroke-linejoin="miter"/><polygon points="212.63,608.10 205.13,621.09 220.13,621.09" fill="#eeaa22" stroke="#dd5a1e" stroke-width="1.4" stroke-linejoin="miter"/><polygon points="242.98,612.32 235.48,625.31 250.48,625.31" fill="#eeaa22" stroke="#dd5a1e" stroke-width="1.4" stroke-linejoin="miter"/><polygon points="267.99,621.28 260.49,634.27 275.49,634.27" fill="#eeaa22" stroke="#dd5a1e" stroke-width="1.4" stroke-linejoin="miter"/><polygon points="308.32,622.08 300.82,635.07 315.82,635.07" fill="#eeaa22" stroke="#dd5a1e" stroke-width="1.4" stroke-linejoin="miter"/></g>
<g clip-path="url(#cb)"><polyline points="207.7,687.7 279.6,660.7 308.3,630.7" fill="none" stroke="#dd5a1e" stroke-width="1.6" stroke-dasharray="6,6.2"/><polygon points="308.32,622.08 300.82,635.07 315.82,635.07" fill="#eeaa22" stroke="#dd5a1e" stroke-width="1.4" stroke-linejoin="miter"/><polygon points="279.56,652.06 272.06,665.05 287.06,665.05" fill="#eeaa22" stroke="#dd5a1e" stroke-width="1.4" stroke-linejoin="miter"/><polygon points="207.71,679.03 200.21,692.02 215.21,692.02" fill="#eeaa22" stroke="#dd5a1e" stroke-width="1.4" stroke-linejoin="miter"/></g>
<g clip-path="url(#cb)"><polyline points="156.5,948.6 169.6,942.7 179.7,942.7 190.1,942.0 197.3,935.2 230.6,927.8 279.6,916.0 340.0,902.2 410.5,882.2 526.6,855.9 678.8,820.6" fill="none" stroke="#0c800c" stroke-width="1.6"/><rect x="151.14" y="943.16" width="10.8" height="10.8" fill="#79ab32" stroke="#0c800c" stroke-width="1.8"/><rect x="164.15" y="937.33" width="10.8" height="10.8" fill="#79ab32" stroke="#0c800c" stroke-width="1.8"/><rect x="174.27" y="937.33" width="10.8" height="10.8" fill="#79ab32" stroke="#0c800c" stroke-width="1.8"/><rect x="184.68" y="936.62" width="10.8" height="10.8" fill="#79ab32" stroke="#0c800c" stroke-width="1.8"/><rect x="191.91" y="929.78" width="10.8" height="10.8" fill="#79ab32" stroke="#0c800c" stroke-width="1.8"/><rect x="225.15" y="922.44" width="10.8" height="10.8" fill="#79ab32" stroke="#0c800c" stroke-width="1.8"/><rect x="274.16" y="910.56" width="10.8" height="10.8" fill="#79ab32" stroke="#0c800c" stroke-width="1.8"/><rect x="334.58" y="896.78" width="10.8" height="10.8" fill="#79ab32" stroke="#0c800c" stroke-width="1.8"/><rect x="405.12" y="876.76" width="10.8" height="10.8" fill="#79ab32" stroke="#0c800c" stroke-width="1.8"/><rect x="521.20" y="850.50" width="10.8" height="10.8" fill="#79ab32" stroke="#0c800c" stroke-width="1.8"/></g>
<g clip-path="url(#cb)"><polyline points="140.5,857.9 137.0,850.2 153.5,847.9 174.2,844.8 198.5,833.8 235.9,824.6 309.0,812.8 394.6,794.7 471.8,765.7 623.7,736.9 882.6,695.6" fill="none" stroke="#0c800c" stroke-width="1.6" stroke-dasharray="6,6.2"/><rect x="618.33" y="731.48" width="10.8" height="10.8" fill="#79ab32" stroke="#0c800c" stroke-width="1.8"/><rect x="466.41" y="760.26" width="10.8" height="10.8" fill="#79ab32" stroke="#0c800c" stroke-width="1.8"/><rect x="389.22" y="789.33" width="10.8" height="10.8" fill="#79ab32" stroke="#0c800c" stroke-width="1.8"/><rect x="303.64" y="807.44" width="10.8" height="10.8" fill="#79ab32" stroke="#0c800c" stroke-width="1.8"/><rect x="230.50" y="819.21" width="10.8" height="10.8" fill="#79ab32" stroke="#0c800c" stroke-width="1.8"/><rect x="193.06" y="828.37" width="10.8" height="10.8" fill="#79ab32" stroke="#0c800c" stroke-width="1.8"/><rect x="168.78" y="839.44" width="10.8" height="10.8" fill="#79ab32" stroke="#0c800c" stroke-width="1.8"/><rect x="148.11" y="842.45" width="10.8" height="10.8" fill="#79ab32" stroke="#0c800c" stroke-width="1.8"/><rect x="131.63" y="844.77" width="10.8" height="10.8" fill="#79ab32" stroke="#0c800c" stroke-width="1.8"/><rect x="135.10" y="852.51" width="10.8" height="10.8" fill="#79ab32" stroke="#0c800c" stroke-width="1.8"/></g>
<line x1="110.10" y1="954.90" x2="669.50" y2="954.90" stroke="#000" stroke-width="1.4"/>
<line x1="110.10" y1="555.00" x2="669.50" y2="555.00" stroke="#000" stroke-width="1.4"/>
<line x1="110.10" y1="954.90" x2="110.10" y2="555.00" stroke="#000" stroke-width="1.4"/>
<line x1="669.50" y1="954.90" x2="669.50" y2="555.00" stroke="#000" stroke-width="1.4"/>
<line x1="136.74" y1="954.90" x2="136.74" y2="966.70" stroke="#000" stroke-width="1.4"/>
<line x1="136.74" y1="555.00" x2="136.74" y2="543.20" stroke="#000" stroke-width="1.4"/>
<line x1="269.93" y1="954.90" x2="269.93" y2="966.70" stroke="#000" stroke-width="1.4"/>
<line x1="269.93" y1="555.00" x2="269.93" y2="543.20" stroke="#000" stroke-width="1.4"/>
<line x1="403.12" y1="954.90" x2="403.12" y2="966.70" stroke="#000" stroke-width="1.4"/>
<line x1="403.12" y1="555.00" x2="403.12" y2="543.20" stroke="#000" stroke-width="1.4"/>
<line x1="536.31" y1="954.90" x2="536.31" y2="966.70" stroke="#000" stroke-width="1.4"/>
<line x1="536.31" y1="555.00" x2="536.31" y2="543.20" stroke="#000" stroke-width="1.4"/>
<line x1="669.50" y1="954.90" x2="669.50" y2="966.70" stroke="#000" stroke-width="1.4"/>
<line x1="669.50" y1="555.00" x2="669.50" y2="543.20" stroke="#000" stroke-width="1.4"/>
<line x1="110.10" y1="954.90" x2="110.10" y2="961.10" stroke="#000" stroke-width="1.4"/>
<line x1="110.10" y1="555.00" x2="110.10" y2="548.80" stroke="#000" stroke-width="1.4"/>
<line x1="163.38" y1="954.90" x2="163.38" y2="961.10" stroke="#000" stroke-width="1.4"/>
<line x1="163.38" y1="555.00" x2="163.38" y2="548.80" stroke="#000" stroke-width="1.4"/>
<line x1="190.01" y1="954.90" x2="190.01" y2="961.10" stroke="#000" stroke-width="1.4"/>
<line x1="190.01" y1="555.00" x2="190.01" y2="548.80" stroke="#000" stroke-width="1.4"/>
<line x1="216.65" y1="954.90" x2="216.65" y2="961.10" stroke="#000" stroke-width="1.4"/>
<line x1="216.65" y1="555.00" x2="216.65" y2="548.80" stroke="#000" stroke-width="1.4"/>
<line x1="243.29" y1="954.90" x2="243.29" y2="961.10" stroke="#000" stroke-width="1.4"/>
<line x1="243.29" y1="555.00" x2="243.29" y2="548.80" stroke="#000" stroke-width="1.4"/>
<line x1="296.57" y1="954.90" x2="296.57" y2="961.10" stroke="#000" stroke-width="1.4"/>
<line x1="296.57" y1="555.00" x2="296.57" y2="548.80" stroke="#000" stroke-width="1.4"/>
<line x1="323.20" y1="954.90" x2="323.20" y2="961.10" stroke="#000" stroke-width="1.4"/>
<line x1="323.20" y1="555.00" x2="323.20" y2="548.80" stroke="#000" stroke-width="1.4"/>
<line x1="349.84" y1="954.90" x2="349.84" y2="961.10" stroke="#000" stroke-width="1.4"/>
<line x1="349.84" y1="555.00" x2="349.84" y2="548.80" stroke="#000" stroke-width="1.4"/>
<line x1="376.48" y1="954.90" x2="376.48" y2="961.10" stroke="#000" stroke-width="1.4"/>
<line x1="376.48" y1="555.00" x2="376.48" y2="548.80" stroke="#000" stroke-width="1.4"/>
<line x1="429.76" y1="954.90" x2="429.76" y2="961.10" stroke="#000" stroke-width="1.4"/>
<line x1="429.76" y1="555.00" x2="429.76" y2="548.80" stroke="#000" stroke-width="1.4"/>
<line x1="456.40" y1="954.90" x2="456.40" y2="961.10" stroke="#000" stroke-width="1.4"/>
<line x1="456.40" y1="555.00" x2="456.40" y2="548.80" stroke="#000" stroke-width="1.4"/>
<line x1="483.03" y1="954.90" x2="483.03" y2="961.10" stroke="#000" stroke-width="1.4"/>
<line x1="483.03" y1="555.00" x2="483.03" y2="548.80" stroke="#000" stroke-width="1.4"/>
<line x1="509.67" y1="954.90" x2="509.67" y2="961.10" stroke="#000" stroke-width="1.4"/>
<line x1="509.67" y1="555.00" x2="509.67" y2="548.80" stroke="#000" stroke-width="1.4"/>
<line x1="562.95" y1="954.90" x2="562.95" y2="961.10" stroke="#000" stroke-width="1.4"/>
<line x1="562.95" y1="555.00" x2="562.95" y2="548.80" stroke="#000" stroke-width="1.4"/>
<line x1="589.59" y1="954.90" x2="589.59" y2="961.10" stroke="#000" stroke-width="1.4"/>
<line x1="589.59" y1="555.00" x2="589.59" y2="548.80" stroke="#000" stroke-width="1.4"/>
<line x1="616.22" y1="954.90" x2="616.22" y2="961.10" stroke="#000" stroke-width="1.4"/>
<line x1="616.22" y1="555.00" x2="616.22" y2="548.80" stroke="#000" stroke-width="1.4"/>
<line x1="642.86" y1="954.90" x2="642.86" y2="961.10" stroke="#000" stroke-width="1.4"/>
<line x1="642.86" y1="555.00" x2="642.86" y2="548.80" stroke="#000" stroke-width="1.4"/>
<line x1="110.10" y1="954.90" x2="98.30" y2="954.90" stroke="#000" stroke-width="1.4"/>
<line x1="669.50" y1="954.90" x2="681.30" y2="954.90" stroke="#000" stroke-width="1.4"/>
<line x1="110.10" y1="866.03" x2="98.30" y2="866.03" stroke="#000" stroke-width="1.4"/>
<line x1="669.50" y1="866.03" x2="681.30" y2="866.03" stroke="#000" stroke-width="1.4"/>
<line x1="110.10" y1="777.17" x2="98.30" y2="777.17" stroke="#000" stroke-width="1.4"/>
<line x1="669.50" y1="777.17" x2="681.30" y2="777.17" stroke="#000" stroke-width="1.4"/>
<line x1="110.10" y1="688.30" x2="98.30" y2="688.30" stroke="#000" stroke-width="1.4"/>
<line x1="669.50" y1="688.30" x2="681.30" y2="688.30" stroke="#000" stroke-width="1.4"/>
<line x1="110.10" y1="599.43" x2="98.30" y2="599.43" stroke="#000" stroke-width="1.4"/>
<line x1="669.50" y1="599.43" x2="681.30" y2="599.43" stroke="#000" stroke-width="1.4"/>
<line x1="110.10" y1="937.13" x2="103.90" y2="937.13" stroke="#000" stroke-width="1.4"/>
<line x1="669.50" y1="937.13" x2="675.70" y2="937.13" stroke="#000" stroke-width="1.4"/>
<line x1="110.10" y1="919.35" x2="103.90" y2="919.35" stroke="#000" stroke-width="1.4"/>
<line x1="669.50" y1="919.35" x2="675.70" y2="919.35" stroke="#000" stroke-width="1.4"/>
<line x1="110.10" y1="901.58" x2="103.90" y2="901.58" stroke="#000" stroke-width="1.4"/>
<line x1="669.50" y1="901.58" x2="675.70" y2="901.58" stroke="#000" stroke-width="1.4"/>
<line x1="110.10" y1="883.81" x2="103.90" y2="883.81" stroke="#000" stroke-width="1.4"/>
<line x1="669.50" y1="883.81" x2="675.70" y2="883.81" stroke="#000" stroke-width="1.4"/>
<line x1="110.10" y1="848.26" x2="103.90" y2="848.26" stroke="#000" stroke-width="1.4"/>
<line x1="669.50" y1="848.26" x2="675.70" y2="848.26" stroke="#000" stroke-width="1.4"/>
<line x1="110.10" y1="830.49" x2="103.90" y2="830.49" stroke="#000" stroke-width="1.4"/>
<line x1="669.50" y1="830.49" x2="675.70" y2="830.49" stroke="#000" stroke-width="1.4"/>
<line x1="110.10" y1="812.71" x2="103.90" y2="812.71" stroke="#000" stroke-width="1.4"/>
<line x1="669.50" y1="812.71" x2="675.70" y2="812.71" stroke="#000" stroke-width="1.4"/>
<line x1="110.10" y1="794.94" x2="103.90" y2="794.94" stroke="#000" stroke-width="1.4"/>
<line x1="669.50" y1="794.94" x2="675.70" y2="794.94" stroke="#000" stroke-width="1.4"/>
<line x1="110.10" y1="759.39" x2="103.90" y2="759.39" stroke="#000" stroke-width="1.4"/>
<line x1="669.50" y1="759.39" x2="675.70" y2="759.39" stroke="#000" stroke-width="1.4"/>
<line x1="110.10" y1="741.62" x2="103.90" y2="741.62" stroke="#000" stroke-width="1.4"/>
<line x1="669.50" y1="741.62" x2="675.70" y2="741.62" stroke="#000" stroke-width="1.4"/>
<line x1="110.10" y1="723.85" x2="103.90" y2="723.85" stroke="#000" stroke-width="1.4"/>
<line x1="669.50" y1="723.85" x2="675.70" y2="723.85" stroke="#000" stroke-width="1.4"/>
<line x1="110.10" y1="706.07" x2="103.90" y2="706.07" stroke="#000" stroke-width="1.4"/>
<line x1="669.50" y1="706.07" x2="675.70" y2="706.07" stroke="#000" stroke-width="1.4"/>
<line x1="110.10" y1="670.53" x2="103.90" y2="670.53" stroke="#000" stroke-width="1.4"/>
<line x1="669.50" y1="670.53" x2="675.70" y2="670.53" stroke="#000" stroke-width="1.4"/>
<line x1="110.10" y1="652.75" x2="103.90" y2="652.75" stroke="#000" stroke-width="1.4"/>
<line x1="669.50" y1="652.75" x2="675.70" y2="652.75" stroke="#000" stroke-width="1.4"/>
<line x1="110.10" y1="634.98" x2="103.90" y2="634.98" stroke="#000" stroke-width="1.4"/>
<line x1="669.50" y1="634.98" x2="675.70" y2="634.98" stroke="#000" stroke-width="1.4"/>
<line x1="110.10" y1="617.21" x2="103.90" y2="617.21" stroke="#000" stroke-width="1.4"/>
<line x1="669.50" y1="617.21" x2="675.70" y2="617.21" stroke="#000" stroke-width="1.4"/>
<line x1="110.10" y1="581.66" x2="103.90" y2="581.66" stroke="#000" stroke-width="1.4"/>
<line x1="669.50" y1="581.66" x2="675.70" y2="581.66" stroke="#000" stroke-width="1.4"/>
<line x1="110.10" y1="563.89" x2="103.90" y2="563.89" stroke="#000" stroke-width="1.4"/>
<line x1="669.50" y1="563.89" x2="675.70" y2="563.89" stroke="#000" stroke-width="1.4"/>
<text x="128.68" y="1003.80" font-size="29">0</text>
<path d="M264.61,1003.80 L262.06,1003.80 L262.06,988.57 L256.95,991.39 L256.95,989.15 L263.03,983.91 L264.61,983.91 Z" fill="#000"/><text x="269.93" y="1003.80" font-size="29">0</text>
<text x="387.00" y="1003.80" font-size="29">20</text>
<text x="520.19" y="1003.80" font-size="29">30</text>
<text x="653.38" y="1003.80" font-size="29">40</text>
<text x="48.59" y="966.50" font-size="29">-20</text>
<text x="48.59" y="877.63" font-size="29">-</text><path d="M69.06,877.63 L66.51,877.63 L66.51,862.41 L61.40,865.22 L61.40,862.99 L67.47,857.74 L69.06,857.74 Z" fill="#000"/><text x="74.38" y="877.63" font-size="29">9</text>
<text x="48.59" y="788.77" font-size="29">-</text><path d="M69.06,788.77 L66.51,788.77 L66.51,773.54 L61.40,776.35 L61.40,774.12 L67.47,768.87 L69.06,768.87 Z" fill="#000"/><text x="74.38" y="788.77" font-size="29">8</text>
<text x="48.59" y="699.90" font-size="29">-</text><path d="M69.06,699.90 L66.51,699.90 L66.51,684.67 L61.40,687.49 L61.40,685.25 L67.47,680.01 L69.06,680.01 Z" fill="#000"/><text x="74.38" y="699.90" font-size="29">7</text>
<text x="48.59" y="611.03" font-size="29">-</text><path d="M69.06,611.03 L66.51,611.03 L66.51,595.81 L61.40,598.62 L61.40,596.39 L67.47,591.14 L69.06,591.14 Z" fill="#000"/><text x="74.38" y="611.03" font-size="29">6</text>
<text x="390.5" y="1042.8" font-size="31.8" text-anchor="middle" font-weight="normal">Pressure (GPa)</text>
<text x="22.6" y="753.7" font-size="31.6" text-anchor="middle" transform="rotate(-90 22.6 753.7)">Enthalpy (eV/CO<tspan font-size="24.5" dy="15.4">2</tspan><tspan dy="-15.4">)</tspan></text>
<text x="7.6" y="564.9" font-size="37.5" text-anchor="start" font-weight="bold">b</text>
<line x1="202.1" y1="1089.9" x2="202.1" y2="1487.4" stroke="#d4d4d4" stroke-width="1"/>
<line x1="294.6" y1="1089.9" x2="294.6" y2="1487.4" stroke="#d4d4d4" stroke-width="1"/>
<line x1="387.0" y1="1089.9" x2="387.0" y2="1487.4" stroke="#d4d4d4" stroke-width="1"/>
<line x1="479.5" y1="1089.9" x2="479.5" y2="1487.4" stroke="#d4d4d4" stroke-width="1"/>
<line x1="572.0" y1="1089.9" x2="572.0" y2="1487.4" stroke="#d4d4d4" stroke-width="1"/>
<line x1="109.6" y1="1399.1" x2="664.5" y2="1399.1" stroke="#d4d4d4" stroke-width="1"/>
<line x1="109.6" y1="1310.7" x2="664.5" y2="1310.7" stroke="#d4d4d4" stroke-width="1"/>
<line x1="109.6" y1="1222.4" x2="664.5" y2="1222.4" stroke="#d4d4d4" stroke-width="1"/>
<line x1="109.6" y1="1134.1" x2="664.5" y2="1134.1" stroke="#d4d4d4" stroke-width="1"/>
<g clip-path="url(#cc)"><polyline points="128.8,1137.6 141.1,1137.6 155.4,1141.1 170.3,1143.7 186.0,1145.8 204.4,1149.2 224.9,1148.8 245.9,1149.9 269.4,1148.3 295.3,1144.6 323.7,1138.0 355.5,1141.5 390.2,1158.8 429.1,1190.8 472.0,1202.7 520.7,1188.2" fill="none" stroke="#0000ff" stroke-width="1.6"/><circle cx="128.8" cy="1137.6" r="6.75" fill="#d9ffff" stroke="#0000ff" stroke-width="1.5"/><circle cx="141.1" cy="1137.6" r="6.75" fill="#d9ffff" stroke="#0000ff" stroke-width="1.5"/><circle cx="155.4" cy="1141.1" r="6.75" fill="#d9ffff" stroke="#0000ff" stroke-width="1.5"/><circle cx="170.3" cy="1143.7" r="6.75" fill="#d9ffff" stroke="#0000ff" stroke-width="1.5"/><circle cx="186.0" cy="1145.8" r="6.75" fill="#d9ffff" stroke="#0000ff" stroke-width="1.5"/><circle cx="204.4" cy="1149.2" r="6.75" fill="#d9ffff" stroke="#0000ff" stroke-width="1.5"/><circle cx="224.9" cy="1148.8" r="6.75" fill="#d9ffff" stroke="#0000ff" stroke-width="1.5"/><circle cx="245.9" cy="1149.9" r="6.75" fill="#d9ffff" stroke="#0000ff" stroke-width="1.5"/><circle cx="269.4" cy="1148.3" r="6.75" fill="#d9ffff" stroke="#0000ff" stroke-width="1.5"/><circle cx="295.3" cy="1144.6" r="6.75" fill="#d9ffff" stroke="#0000ff" stroke-width="1.5"/><circle cx="323.7" cy="1138.0" r="6.75" fill="#d9ffff" stroke="#0000ff" stroke-width="1.5"/><circle cx="355.5" cy="1141.5" r="6.75" fill="#d9ffff" stroke="#0000ff" stroke-width="1.5"/><circle cx="390.2" cy="1158.8" r="6.75" fill="#d9ffff" stroke="#0000ff" stroke-width="1.5"/><circle cx="429.1" cy="1190.8" r="6.75" fill="#d9ffff" stroke="#0000ff" stroke-width="1.5"/><circle cx="472.0" cy="1202.7" r="6.75" fill="#d9ffff" stroke="#0000ff" stroke-width="1.5"/><circle cx="520.7" cy="1188.2" r="6.75" fill="#d9ffff" stroke="#0000ff" stroke-width="1.5"/></g>
<g clip-path="url(#cc)"><polyline points="269.2,1282.0 281.9,1283.1 295.5,1284.6 309.1,1284.6 324.0,1283.5 339.3,1281.3 355.3,1280.7 372.6,1276.9 390.6,1265.5 409.0,1263.2 429.0,1258.4 449.6,1252.9 472.1,1245.0 495.5,1233.7 520.7,1188.2" fill="none" stroke="#0000ff" stroke-width="1.6" stroke-dasharray="6,6.2"/><circle cx="520.7" cy="1188.2" r="6.75" fill="#d9ffff" stroke="#0000ff" stroke-width="1.5"/><circle cx="495.5" cy="1233.7" r="6.75" fill="#d9ffff" stroke="#0000ff" stroke-width="1.5"/><circle cx="472.1" cy="1245.0" r="6.75" fill="#d9ffff" stroke="#0000ff" stroke-width="1.5"/><circle cx="449.6" cy="1252.9" r="6.75" fill="#d9ffff" stroke="#0000ff" stroke-width="1.5"/><circle cx="429.0" cy="1258.4" r="6.75" fill="#d9ffff" stroke="#0000ff" stroke-width="1.5"/><circle cx="409.0" cy="1263.2" r="6.75" fill="#d9ffff" stroke="#0000ff" stroke-width="1.5"/><circle cx="390.6" cy="1265.5" r="6.75" fill="#d9ffff" stroke="#0000ff" stroke-width="1.5"/><circle cx="372.6" cy="1276.9" r="6.75" fill="#d9ffff" stroke="#0000ff" stroke-width="1.5"/><circle cx="355.3" cy="1280.7" r="6.75" fill="#d9ffff" stroke="#0000ff" stroke-width="1.5"/><circle cx="339.3" cy="1281.3" r="6.75" fill="#d9ffff" stroke="#0000ff" stroke-width="1.5"/><circle cx="324.0" cy="1283.5" r="6.75" fill="#d9ffff" stroke="#0000ff" stroke-width="1.5"/><circle cx="309.1" cy="1284.6" r="6.75" fill="#d9ffff" stroke="#0000ff" stroke-width="1.5"/><circle cx="295.5" cy="1284.6" r="6.75" fill="#d9ffff" stroke="#0000ff" stroke-width="1.5"/><circle cx="281.9" cy="1283.1" r="6.75" fill="#d9ffff" stroke="#0000ff" stroke-width="1.5"/><circle cx="269.2" cy="1282.0" r="6.75" fill="#d9ffff" stroke="#0000ff" stroke-width="1.5"/></g>
<g clip-path="url(#cc)"><polyline points="128.8,1137.8 147.2,1138.3 165.2,1138.3 178.5,1138.9 197.9,1147.2 204.0,1148.2 209.1,1148.8 219.3,1151.3 305.6,1155.5 326.6,1164.4 339.6,1165.2" fill="none" stroke="#dd5a1e" stroke-width="1.6"/><polygon points="128.80,1129.14 121.30,1142.13 136.30,1142.13" fill="#eeaa22" stroke="#dd5a1e" stroke-width="1.4" stroke-linejoin="miter"/><polygon points="147.20,1129.64 139.70,1142.63 154.70,1142.63" fill="#eeaa22" stroke="#dd5a1e" stroke-width="1.4" stroke-linejoin="miter"/><polygon points="165.20,1129.64 157.70,1142.63 172.70,1142.63" fill="#eeaa22" stroke="#dd5a1e" stroke-width="1.4" stroke-linejoin="miter"/><polygon points="178.50,1130.24 171.00,1143.23 186.00,1143.23" fill="#eeaa22" stroke="#dd5a1e" stroke-width="1.4" stroke-linejoin="miter"/><polygon points="197.90,1138.54 190.40,1151.53 205.40,1151.53" fill="#eeaa22" stroke="#dd5a1e" stroke-width="1.4" stroke-linejoin="miter"/><polygon points="204.00,1139.54 196.50,1152.53 211.50,1152.53" fill="#eeaa22" stroke="#dd5a1e" stroke-width="1.4" stroke-linejoin="miter"/><polygon points="209.10,1140.14 201.60,1153.13 216.60,1153.13" fill="#eeaa22" stroke="#dd5a1e" stroke-width="1.4" stroke-linejoin="miter"/><polygon points="219.30,1142.64 211.80,1155.63 226.80,1155.63" fill="#eeaa22" stroke="#dd5a1e" stroke-width="1.4" stroke-linejoin="miter"/><polygon points="305.60,1146.84 298.10,1159.83 313.10,1159.83" fill="#eeaa22" stroke="#dd5a1e" stroke-width="1.4" stroke-linejoin="miter"/><polygon points="326.60,1155.74 319.10,1168.73 334.10,1168.73" fill="#eeaa22" stroke="#dd5a1e" stroke-width="1.4" stroke-linejoin="miter"/><polygon points="339.60,1156.54 332.10,1169.53 347.10,1169.53" fill="#eeaa22" stroke="#dd5a1e" stroke-width="1.4" stroke-linejoin="miter"/></g>
<g clip-path="url(#cc)"><polyline points="315.0,1221.8 324.7,1195.0 339.6,1165.2" fill="none" stroke="#dd5a1e" stroke-width="1.6" stroke-dasharray="6,6.2"/><polygon points="339.60,1156.54 332.10,1169.53 347.10,1169.53" fill="#eeaa22" stroke="#dd5a1e" stroke-width="1.4" stroke-linejoin="miter"/><polygon points="324.70,1186.34 317.20,1199.33 332.20,1199.33" fill="#eeaa22" stroke="#dd5a1e" stroke-width="1.4" stroke-linejoin="miter"/><polygon points="315.00,1213.14 307.50,1226.13 322.50,1226.13" fill="#eeaa22" stroke="#dd5a1e" stroke-width="1.4" stroke-linejoin="miter"/></g>
<g clip-path="url(#cc)"><polyline points="211.0,1481.1 229.0,1475.3 247.9,1475.3 269.4,1474.6 292.8,1467.8 317.3,1460.5 345.0,1448.7 375.0,1435.0 407.7,1415.1 444.4,1389.0 484.1,1353.9 528.5,1307.6 577.4,1245.7 631.5,1167.7 697.3,1061.7" fill="none" stroke="#0c800c" stroke-width="1.6"/><rect x="205.60" y="1475.70" width="10.8" height="10.8" fill="#79ab32" stroke="#0c800c" stroke-width="1.8"/><rect x="223.60" y="1469.90" width="10.8" height="10.8" fill="#79ab32" stroke="#0c800c" stroke-width="1.8"/><rect x="242.50" y="1469.90" width="10.8" height="10.8" fill="#79ab32" stroke="#0c800c" stroke-width="1.8"/><rect x="264.00" y="1469.20" width="10.8" height="10.8" fill="#79ab32" stroke="#0c800c" stroke-width="1.8"/><rect x="287.40" y="1462.40" width="10.8" height="10.8" fill="#79ab32" stroke="#0c800c" stroke-width="1.8"/><rect x="311.90" y="1455.10" width="10.8" height="10.8" fill="#79ab32" stroke="#0c800c" stroke-width="1.8"/><rect x="339.60" y="1443.30" width="10.8" height="10.8" fill="#79ab32" stroke="#0c800c" stroke-width="1.8"/><rect x="369.60" y="1429.60" width="10.8" height="10.8" fill="#79ab32" stroke="#0c800c" stroke-width="1.8"/><rect x="402.30" y="1409.70" width="10.8" height="10.8" fill="#79ab32" stroke="#0c800c" stroke-width="1.8"/><rect x="439.00" y="1383.60" width="10.8" height="10.8" fill="#79ab32" stroke="#0c800c" stroke-width="1.8"/><rect x="478.70" y="1348.50" width="10.8" height="10.8" fill="#79ab32" stroke="#0c800c" stroke-width="1.8"/><rect x="523.10" y="1302.20" width="10.8" height="10.8" fill="#79ab32" stroke="#0c800c" stroke-width="1.8"/><rect x="572.00" y="1240.30" width="10.8" height="10.8" fill="#79ab32" stroke="#0c800c" stroke-width="1.8"/><rect x="626.10" y="1162.30" width="10.8" height="10.8" fill="#79ab32" stroke="#0c800c" stroke-width="1.8"/></g>
<g clip-path="url(#cc)"><polyline points="269.0,1391.0 292.3,1383.3 317.2,1381.0 344.9,1378.0 375.0,1367.0 407.7,1357.9 444.4,1346.2 484.1,1328.2 528.5,1299.3 577.1,1270.7 631.7,1229.7 697.1,1166.7" fill="none" stroke="#0c800c" stroke-width="1.6" stroke-dasharray="6,6.2"/><rect x="626.30" y="1224.30" width="10.8" height="10.8" fill="#79ab32" stroke="#0c800c" stroke-width="1.8"/><rect x="571.70" y="1265.30" width="10.8" height="10.8" fill="#79ab32" stroke="#0c800c" stroke-width="1.8"/><rect x="523.10" y="1293.90" width="10.8" height="10.8" fill="#79ab32" stroke="#0c800c" stroke-width="1.8"/><rect x="478.70" y="1322.80" width="10.8" height="10.8" fill="#79ab32" stroke="#0c800c" stroke-width="1.8"/><rect x="439.00" y="1340.80" width="10.8" height="10.8" fill="#79ab32" stroke="#0c800c" stroke-width="1.8"/><rect x="402.30" y="1352.50" width="10.8" height="10.8" fill="#79ab32" stroke="#0c800c" stroke-width="1.8"/><rect x="369.60" y="1361.60" width="10.8" height="10.8" fill="#79ab32" stroke="#0c800c" stroke-width="1.8"/><rect x="339.50" y="1372.60" width="10.8" height="10.8" fill="#79ab32" stroke="#0c800c" stroke-width="1.8"/><rect x="311.80" y="1375.60" width="10.8" height="10.8" fill="#79ab32" stroke="#0c800c" stroke-width="1.8"/><rect x="286.90" y="1377.90" width="10.8" height="10.8" fill="#79ab32" stroke="#0c800c" stroke-width="1.8"/><rect x="263.60" y="1385.60" width="10.8" height="10.8" fill="#79ab32" stroke="#0c800c" stroke-width="1.8"/></g>
<line x1="109.60" y1="1487.40" x2="664.50" y2="1487.40" stroke="#000" stroke-width="1.4"/>
<line x1="109.60" y1="1089.90" x2="664.50" y2="1089.90" stroke="#000" stroke-width="1.4"/>
<line x1="109.60" y1="1487.40" x2="109.60" y2="1089.90" stroke="#000" stroke-width="1.4"/>
<line x1="664.50" y1="1487.40" x2="664.50" y2="1089.90" stroke="#000" stroke-width="1.4"/>
<line x1="109.60" y1="1487.40" x2="109.60" y2="1499.20" stroke="#000" stroke-width="1.4"/>
<line x1="109.60" y1="1089.90" x2="109.60" y2="1078.10" stroke="#000" stroke-width="1.4"/>
<line x1="202.08" y1="1487.40" x2="202.08" y2="1499.20" stroke="#000" stroke-width="1.4"/>
<line x1="202.08" y1="1089.90" x2="202.08" y2="1078.10" stroke="#000" stroke-width="1.4"/>
<line x1="294.57" y1="1487.40" x2="294.57" y2="1499.20" stroke="#000" stroke-width="1.4"/>
<line x1="294.57" y1="1089.90" x2="294.57" y2="1078.10" stroke="#000" stroke-width="1.4"/>
<line x1="387.05" y1="1487.40" x2="387.05" y2="1499.20" stroke="#000" stroke-width="1.4"/>
<line x1="387.05" y1="1089.90" x2="387.05" y2="1078.10" stroke="#000" stroke-width="1.4"/>
<line x1="479.53" y1="1487.40" x2="479.53" y2="1499.20" stroke="#000" stroke-width="1.4"/>
<line x1="479.53" y1="1089.90" x2="479.53" y2="1078.10" stroke="#000" stroke-width="1.4"/>
<line x1="572.02" y1="1487.40" x2="572.02" y2="1499.20" stroke="#000" stroke-width="1.4"/>
<line x1="572.02" y1="1089.90" x2="572.02" y2="1078.10" stroke="#000" stroke-width="1.4"/>
<line x1="664.50" y1="1487.40" x2="664.50" y2="1499.20" stroke="#000" stroke-width="1.4"/>
<line x1="664.50" y1="1089.90" x2="664.50" y2="1078.10" stroke="#000" stroke-width="1.4"/>
<line x1="128.10" y1="1487.40" x2="128.10" y2="1493.60" stroke="#000" stroke-width="1.4"/>
<line x1="128.10" y1="1089.90" x2="128.10" y2="1083.70" stroke="#000" stroke-width="1.4"/>
<line x1="146.59" y1="1487.40" x2="146.59" y2="1493.60" stroke="#000" stroke-width="1.4"/>
<line x1="146.59" y1="1089.90" x2="146.59" y2="1083.70" stroke="#000" stroke-width="1.4"/>
<line x1="165.09" y1="1487.40" x2="165.09" y2="1493.60" stroke="#000" stroke-width="1.4"/>
<line x1="165.09" y1="1089.90" x2="165.09" y2="1083.70" stroke="#000" stroke-width="1.4"/>
<line x1="183.59" y1="1487.40" x2="183.59" y2="1493.60" stroke="#000" stroke-width="1.4"/>
<line x1="183.59" y1="1089.90" x2="183.59" y2="1083.70" stroke="#000" stroke-width="1.4"/>
<line x1="220.58" y1="1487.40" x2="220.58" y2="1493.60" stroke="#000" stroke-width="1.4"/>
<line x1="220.58" y1="1089.90" x2="220.58" y2="1083.70" stroke="#000" stroke-width="1.4"/>
<line x1="239.08" y1="1487.40" x2="239.08" y2="1493.60" stroke="#000" stroke-width="1.4"/>
<line x1="239.08" y1="1089.90" x2="239.08" y2="1083.70" stroke="#000" stroke-width="1.4"/>
<line x1="257.57" y1="1487.40" x2="257.57" y2="1493.60" stroke="#000" stroke-width="1.4"/>
<line x1="257.57" y1="1089.90" x2="257.57" y2="1083.70" stroke="#000" stroke-width="1.4"/>
<line x1="276.07" y1="1487.40" x2="276.07" y2="1493.60" stroke="#000" stroke-width="1.4"/>
<line x1="276.07" y1="1089.90" x2="276.07" y2="1083.70" stroke="#000" stroke-width="1.4"/>
<line x1="313.06" y1="1487.40" x2="313.06" y2="1493.60" stroke="#000" stroke-width="1.4"/>
<line x1="313.06" y1="1089.90" x2="313.06" y2="1083.70" stroke="#000" stroke-width="1.4"/>
<line x1="331.56" y1="1487.40" x2="331.56" y2="1493.60" stroke="#000" stroke-width="1.4"/>
<line x1="331.56" y1="1089.90" x2="331.56" y2="1083.70" stroke="#000" stroke-width="1.4"/>
<line x1="350.06" y1="1487.40" x2="350.06" y2="1493.60" stroke="#000" stroke-width="1.4"/>
<line x1="350.06" y1="1089.90" x2="350.06" y2="1083.70" stroke="#000" stroke-width="1.4"/>
<line x1="368.55" y1="1487.40" x2="368.55" y2="1493.60" stroke="#000" stroke-width="1.4"/>
<line x1="368.55" y1="1089.90" x2="368.55" y2="1083.70" stroke="#000" stroke-width="1.4"/>
<line x1="405.55" y1="1487.40" x2="405.55" y2="1493.60" stroke="#000" stroke-width="1.4"/>
<line x1="405.55" y1="1089.90" x2="405.55" y2="1083.70" stroke="#000" stroke-width="1.4"/>
<line x1="424.04" y1="1487.40" x2="424.04" y2="1493.60" stroke="#000" stroke-width="1.4"/>
<line x1="424.04" y1="1089.90" x2="424.04" y2="1083.70" stroke="#000" stroke-width="1.4"/>
<line x1="442.54" y1="1487.40" x2="442.54" y2="1493.60" stroke="#000" stroke-width="1.4"/>
<line x1="442.54" y1="1089.90" x2="442.54" y2="1083.70" stroke="#000" stroke-width="1.4"/>
<line x1="461.04" y1="1487.40" x2="461.04" y2="1493.60" stroke="#000" stroke-width="1.4"/>
<line x1="461.04" y1="1089.90" x2="461.04" y2="1083.70" stroke="#000" stroke-width="1.4"/>
<line x1="498.03" y1="1487.40" x2="498.03" y2="1493.60" stroke="#000" stroke-width="1.4"/>
<line x1="498.03" y1="1089.90" x2="498.03" y2="1083.70" stroke="#000" stroke-width="1.4"/>
<line x1="516.53" y1="1487.40" x2="516.53" y2="1493.60" stroke="#000" stroke-width="1.4"/>
<line x1="516.53" y1="1089.90" x2="516.53" y2="1083.70" stroke="#000" stroke-width="1.4"/>
<line x1="535.02" y1="1487.40" x2="535.02" y2="1493.60" stroke="#000" stroke-width="1.4"/>
<line x1="535.02" y1="1089.90" x2="535.02" y2="1083.70" stroke="#000" stroke-width="1.4"/>
<line x1="553.52" y1="1487.40" x2="553.52" y2="1493.60" stroke="#000" stroke-width="1.4"/>
<line x1="553.52" y1="1089.90" x2="553.52" y2="1083.70" stroke="#000" stroke-width="1.4"/>
<line x1="590.51" y1="1487.40" x2="590.51" y2="1493.60" stroke="#000" stroke-width="1.4"/>
<line x1="590.51" y1="1089.90" x2="590.51" y2="1083.70" stroke="#000" stroke-width="1.4"/>
<line x1="609.01" y1="1487.40" x2="609.01" y2="1493.60" stroke="#000" stroke-width="1.4"/>
<line x1="609.01" y1="1089.90" x2="609.01" y2="1083.70" stroke="#000" stroke-width="1.4"/>
<line x1="627.51" y1="1487.40" x2="627.51" y2="1493.60" stroke="#000" stroke-width="1.4"/>
<line x1="627.51" y1="1089.90" x2="627.51" y2="1083.70" stroke="#000" stroke-width="1.4"/>
<line x1="646.00" y1="1487.40" x2="646.00" y2="1493.60" stroke="#000" stroke-width="1.4"/>
<line x1="646.00" y1="1089.90" x2="646.00" y2="1083.70" stroke="#000" stroke-width="1.4"/>
<line x1="109.60" y1="1487.40" x2="97.80" y2="1487.40" stroke="#000" stroke-width="1.4"/>
<line x1="664.50" y1="1487.40" x2="676.30" y2="1487.40" stroke="#000" stroke-width="1.4"/>
<line x1="109.60" y1="1399.07" x2="97.80" y2="1399.07" stroke="#000" stroke-width="1.4"/>
<line x1="664.50" y1="1399.07" x2="676.30" y2="1399.07" stroke="#000" stroke-width="1.4"/>
<line x1="109.60" y1="1310.73" x2="97.80" y2="1310.73" stroke="#000" stroke-width="1.4"/>
<line x1="664.50" y1="1310.73" x2="676.30" y2="1310.73" stroke="#000" stroke-width="1.4"/>
<line x1="109.60" y1="1222.40" x2="97.80" y2="1222.40" stroke="#000" stroke-width="1.4"/>
<line x1="664.50" y1="1222.40" x2="676.30" y2="1222.40" stroke="#000" stroke-width="1.4"/>
<line x1="109.60" y1="1134.07" x2="97.80" y2="1134.07" stroke="#000" stroke-width="1.4"/>
<line x1="664.50" y1="1134.07" x2="676.30" y2="1134.07" stroke="#000" stroke-width="1.4"/>
<line x1="109.60" y1="1469.73" x2="103.40" y2="1469.73" stroke="#000" stroke-width="1.4"/>
<line x1="664.50" y1="1469.73" x2="670.70" y2="1469.73" stroke="#000" stroke-width="1.4"/>
<line x1="109.60" y1="1452.07" x2="103.40" y2="1452.07" stroke="#000" stroke-width="1.4"/>
<line x1="664.50" y1="1452.07" x2="670.70" y2="1452.07" stroke="#000" stroke-width="1.4"/>
<line x1="109.60" y1="1434.40" x2="103.40" y2="1434.40" stroke="#000" stroke-width="1.4"/>
<line x1="664.50" y1="1434.40" x2="670.70" y2="1434.40" stroke="#000" stroke-width="1.4"/>
<line x1="109.60" y1="1416.73" x2="103.40" y2="1416.73" stroke="#000" stroke-width="1.4"/>
<line x1="664.50" y1="1416.73" x2="670.70" y2="1416.73" stroke="#000" stroke-width="1.4"/>
<line x1="109.60" y1="1381.40" x2="103.40" y2="1381.40" stroke="#000" stroke-width="1.4"/>
<line x1="664.50" y1="1381.40" x2="670.70" y2="1381.40" stroke="#000" stroke-width="1.4"/>
<line x1="109.60" y1="1363.73" x2="103.40" y2="1363.73" stroke="#000" stroke-width="1.4"/>
<line x1="664.50" y1="1363.73" x2="670.70" y2="1363.73" stroke="#000" stroke-width="1.4"/>
<line x1="109.60" y1="1346.07" x2="103.40" y2="1346.07" stroke="#000" stroke-width="1.4"/>
<line x1="664.50" y1="1346.07" x2="670.70" y2="1346.07" stroke="#000" stroke-width="1.4"/>
<line x1="109.60" y1="1328.40" x2="103.40" y2="1328.40" stroke="#000" stroke-width="1.4"/>
<line x1="664.50" y1="1328.40" x2="670.70" y2="1328.40" stroke="#000" stroke-width="1.4"/>
<line x1="109.60" y1="1293.07" x2="103.40" y2="1293.07" stroke="#000" stroke-width="1.4"/>
<line x1="664.50" y1="1293.07" x2="670.70" y2="1293.07" stroke="#000" stroke-width="1.4"/>
<line x1="109.60" y1="1275.40" x2="103.40" y2="1275.40" stroke="#000" stroke-width="1.4"/>
<line x1="664.50" y1="1275.40" x2="670.70" y2="1275.40" stroke="#000" stroke-width="1.4"/>
<line x1="109.60" y1="1257.73" x2="103.40" y2="1257.73" stroke="#000" stroke-width="1.4"/>
<line x1="664.50" y1="1257.73" x2="670.70" y2="1257.73" stroke="#000" stroke-width="1.4"/>
<line x1="109.60" y1="1240.07" x2="103.40" y2="1240.07" stroke="#000" stroke-width="1.4"/>
<line x1="664.50" y1="1240.07" x2="670.70" y2="1240.07" stroke="#000" stroke-width="1.4"/>
<line x1="109.60" y1="1204.73" x2="103.40" y2="1204.73" stroke="#000" stroke-width="1.4"/>
<line x1="664.50" y1="1204.73" x2="670.70" y2="1204.73" stroke="#000" stroke-width="1.4"/>
<line x1="109.60" y1="1187.07" x2="103.40" y2="1187.07" stroke="#000" stroke-width="1.4"/>
<line x1="664.50" y1="1187.07" x2="670.70" y2="1187.07" stroke="#000" stroke-width="1.4"/>
<line x1="109.60" y1="1169.40" x2="103.40" y2="1169.40" stroke="#000" stroke-width="1.4"/>
<line x1="664.50" y1="1169.40" x2="670.70" y2="1169.40" stroke="#000" stroke-width="1.4"/>
<line x1="109.60" y1="1151.73" x2="103.40" y2="1151.73" stroke="#000" stroke-width="1.4"/>
<line x1="664.50" y1="1151.73" x2="670.70" y2="1151.73" stroke="#000" stroke-width="1.4"/>
<line x1="109.60" y1="1116.40" x2="103.40" y2="1116.40" stroke="#000" stroke-width="1.4"/>
<line x1="664.50" y1="1116.40" x2="670.70" y2="1116.40" stroke="#000" stroke-width="1.4"/>
<line x1="109.60" y1="1098.73" x2="103.40" y2="1098.73" stroke="#000" stroke-width="1.4"/>
<line x1="664.50" y1="1098.73" x2="670.70" y2="1098.73" stroke="#000" stroke-width="1.4"/>
<path d="M112.34,1535.00 L109.79,1535.00 L109.79,1519.78 L104.68,1522.59 L104.68,1520.36 L110.76,1515.11 L112.34,1515.11 Z" fill="#000"/>
<path d="M192.73,1535.00 L190.18,1535.00 L190.18,1519.78 L185.07,1522.59 L185.07,1520.36 L191.15,1515.11 L192.73,1515.11 Z" fill="#000"/><text x="198.05" y="1535.00" font-size="29">.5</text>
<text x="286.50" y="1535.00" font-size="29">2</text>
<text x="366.89" y="1535.00" font-size="29">2.5</text>
<text x="471.47" y="1535.00" font-size="29">3</text>
<text x="551.86" y="1535.00" font-size="29">3.5</text>
<text x="656.44" y="1535.00" font-size="29">4</text>
<text x="48.59" y="1499.00" font-size="29">-20</text>
<text x="48.59" y="1410.67" font-size="29">-</text><path d="M69.06,1410.67 L66.51,1410.67 L66.51,1395.44 L61.40,1398.25 L61.40,1396.02 L67.47,1390.77 L69.06,1390.77 Z" fill="#000"/><text x="74.38" y="1410.67" font-size="29">9</text>
<text x="48.59" y="1322.33" font-size="29">-</text><path d="M69.06,1322.33 L66.51,1322.33 L66.51,1307.11 L61.40,1309.92 L61.40,1307.69 L67.47,1302.44 L69.06,1302.44 Z" fill="#000"/><text x="74.38" y="1322.33" font-size="29">8</text>
<text x="48.59" y="1234.00" font-size="29">-</text><path d="M69.06,1234.00 L66.51,1234.00 L66.51,1218.78 L61.40,1221.59 L61.40,1219.36 L67.47,1214.11 L69.06,1214.11 Z" fill="#000"/><text x="74.38" y="1234.00" font-size="29">7</text>
<text x="48.59" y="1145.67" font-size="29">-</text><path d="M69.06,1145.67 L66.51,1145.67 L66.51,1130.44 L61.40,1133.25 L61.40,1131.02 L67.47,1125.77 L69.06,1125.77 Z" fill="#000"/><text x="74.38" y="1145.67" font-size="29">6</text>
<text x="387.1" y="1574.5" font-size="31.5" text-anchor="middle" font-weight="normal">Density (g/cc)</text>
<text x="22.6" y="1288.0" font-size="31.5" text-anchor="middle" transform="rotate(-90 22.6 1288.0)">Enthalpy (eV/CO<tspan font-size="24.5" dy="15.4">2</tspan><tspan dy="-15.4">)</tspan></text>
<text x="8.0" y="1099.0" font-size="39.5" text-anchor="start" font-weight="bold">c</text>
</svg>
</body></html>
